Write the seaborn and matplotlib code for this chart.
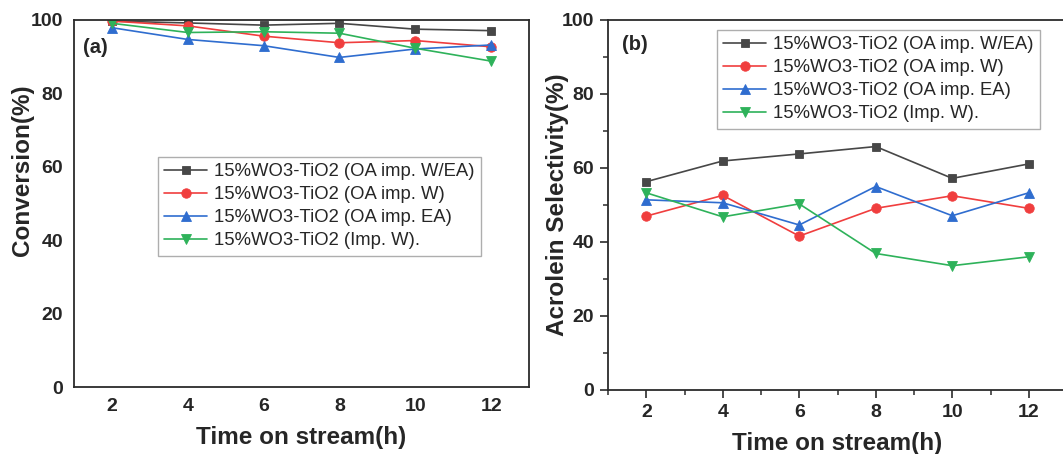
import matplotlib
matplotlib.use("Agg")
import matplotlib.pyplot as plt
from matplotlib.ticker import MultipleLocator
import numpy as np
import pandas as pd
import seaborn as sns

# Time on stream (h)
time_h = [2, 4, 6, 8, 10, 12]

series_labels = [
    "15%WO3-TiO2 (OA imp. W/EA)",
    "15%WO3-TiO2 (OA imp. W)",
    "15%WO3-TiO2 (OA imp. EA)",
    "15%WO3-TiO2 (Imp. W).",
]

# Conversion (%)
conv_w_ea = [99.7, 99.2, 98.6, 99.1, 97.5, 97.1]
conv_w = [99.7, 98.4, 95.6, 93.8, 94.4, 92.7]
conv_ea = [97.9, 94.7, 93.0, 89.8, 92.1, 93.2]
conv_imp = [99.1, 96.6, 96.8, 96.4, 92.3, 88.8]

# Acrolein selectivity (%)
sel_w_ea = [56.3, 61.9, 63.8, 65.8, 57.2, 61.1]
sel_w = [47.0, 52.6, 41.6, 49.1, 52.5, 49.1]
sel_ea = [51.4, 50.6, 44.6, 55.0, 47.1, 53.3]
sel_imp = [53.3, 46.8, 50.3, 36.9, 33.6, 36.0]

colors = ["#474747", "#f03e3e", "#2f6dcf", "#2eb25a"]
markers = ["s", "o", "^", "v"]
msizes = [6, 6.8, 7.2, 7.2]

sns.set_theme(style="ticks")
plt.rcParams["font.family"] = ["Liberation Sans", "DejaVu Sans"]

fig = plt.figure(figsize=(10.63, 4.54), dpi=100)
ax1 = fig.add_axes([74 / 1063, 1 - 387 / 454, 455 / 1063, 367 / 454])
ax2 = fig.add_axes([608 / 1063, 1 - 390 / 454, 459 / 1063, 370 / 454])


def draw_panel(ax, values):
    for lab, vals, c, m, ms in zip(series_labels, values, colors, markers, msizes):
        df = pd.DataFrame({"time": time_h, "value": vals})
        sns.lineplot(data=df, x="time", y="value", ax=ax, color=c, marker=m,
                     markersize=ms, markeredgewidth=0.6, markeredgecolor=c,
                     linewidth=1.2, label=lab)
    ax.set_xlim(1, 13)
    ax.set_ylim(0, 100)
    ax.set_xticks(time_h)
    ax.set_yticks([0, 20, 40, 60, 80, 100])
    for lbl in ax.get_xticklabels() + ax.get_yticklabels():
        lbl.set_fontweight("bold")
        lbl.set_fontsize(14)
    for sp in ax.spines.values():
        sp.set_linewidth(1.3)
        sp.set_color("#2b2b2b")
    ax.set_xlabel("Time on stream(h)", fontsize=17.5, fontweight="bold", labelpad=8)


draw_panel(ax1, [conv_w_ea, conv_w, conv_ea, conv_imp])
draw_panel(ax2, [sel_w_ea, sel_w, sel_ea, sel_imp])

# Left panel: closed frame, no tick marks
ax1.tick_params(axis="both", which="both", length=0, pad=8)
ax1.set_ylabel("Conversion(%)", fontsize=17.5, fontweight="bold")
ax1.yaxis.set_label_coords(-0.088, 0.59)
ax1.text(0.02, 0.926, "(a)", transform=ax1.transAxes, fontsize=14.5,
         fontweight="bold", va="center", ha="left")

# Right panel: outward ticks with minor ticks
ax2.spines["right"].set_visible(False)
ax2.xaxis.set_minor_locator(MultipleLocator(1))
ax2.yaxis.set_minor_locator(MultipleLocator(10))
ax2.tick_params(axis="both", which="major", direction="out", length=6, width=1.2,
                color="#2b2b2b", pad=4)
ax2.tick_params(axis="both", which="minor", direction="out", length=3.5, width=1.1,
                color="#2b2b2b")
ax2.set_ylabel("Acrolein Selectivity(%)", fontsize=17.5, fontweight="bold")
ax2.yaxis.set_label_coords(-0.086, 0.5)
ax2.text(0.03, 0.935, "(b)", transform=ax2.transAxes, fontsize=14.5,
         fontweight="bold", va="center", ha="left")

leg_kw = dict(loc="upper left", borderaxespad=0, fancybox=False, frameon=True,
              edgecolor="#9a9a9a", fontsize=13.3, handlelength=2.3,
              handletextpad=0.4, labelspacing=0.32, borderpad=0.35)
l1 = ax1.legend(bbox_to_anchor=((158 - 74) / 455, (387 - 157) / 367), **leg_kw)
l2 = ax2.legend(bbox_to_anchor=((717 - 608) / 459, (390 - 30) / 370), **leg_kw)
for leg in (l1, l2):
    leg.get_frame().set_linewidth(1.0)

fig.savefig("out.png", dpi=100)
